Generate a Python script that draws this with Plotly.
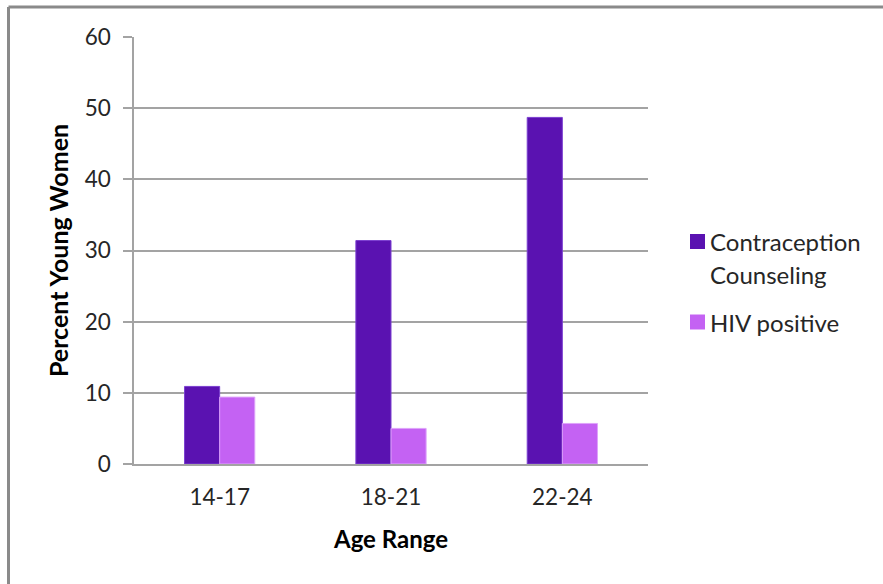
import plotly.graph_objects as go

# Age groups and the two measured series (percent of young women)
age_ranges = ["14-17", "18-21", "22-24"]
contraception_counseling = [10.9, 31.4, 48.7]
hiv_positive = [9.4, 5.0, 5.7]

series_names = ["Contraception Counseling", "HIV positive"]
legend_lines = [["Contraception", "Counseling"], ["HIV positive"]]
series_colors = ["#5A12B1", "#C462F3"]
edge_colors = ["#7B3FD0", "#DDA2FA"]

y_ticks = [0, 10, 20, 30, 40, 50, 60]

W, H = 883, 584
L, R, T, B = 134, 235, 37, 120
PW, PH = W - L - R, H - T - B

FONT = "Lato"
TEXT = "#262626"
GRID = "#A3A3A3"


def px_x(px):
    return (px - L) / PW


def px_y(py):
    return (H - B - py) / PH


fig = go.Figure()
for name, vals, col, edge in zip(series_names, [contraception_counseling, hiv_positive],
                                 series_colors, edge_colors):
    fig.add_trace(go.Bar(
        x=age_ranges, y=vals, name=name,
        marker=dict(color=col, line=dict(color=edge, width=1)),
        showlegend=False,
    ))

# Legend drawn as swatches plus text to the right of the plot area
shapes = []
annotations = []
legend_rows = [241.5, 322]
for lines, col, row in zip(legend_lines, series_colors, legend_rows):
    shapes.append(dict(type="rect", xref="paper", yref="paper",
                       x0=px_x(690), x1=px_x(705), y0=px_y(row + 7.5), y1=px_y(row - 7.5),
                       fillcolor=col, line=dict(width=0)))
    for i, line in enumerate(lines):
        annotations.append(dict(
            text=line, xref="paper", yref="paper",
            x=px_x(708), y=px_y(row + 33 * i), xanchor="left", yanchor="middle",
            showarrow=False, font=dict(family=FONT, size=24, color=TEXT),
        ))

# Outer chart frame (left and top edges)
frame = dict(color="#8A8A8A", width=3)
shapes.append(dict(type="line", xref="paper", yref="paper",
                   x0=px_x(8.5), x1=px_x(8.5), y0=px_y(7), y1=px_y(600), line=frame))
shapes.append(dict(type="line", xref="paper", yref="paper",
                   x0=px_x(8.5), x1=px_x(900), y0=px_y(7), y1=px_y(7), line=frame))

fig.update_layout(
    width=W, height=H,
    margin=dict(l=L, r=R, t=T, b=B),
    paper_bgcolor="white", plot_bgcolor="white",
    barmode="group", bargap=0.59, bargroupgap=0,
    font=dict(family=FONT, size=22, color=TEXT),
    shapes=shapes, annotations=annotations,
    xaxis=dict(
        showline=True, linecolor=GRID, linewidth=1.5,
        ticks="", ticklabelstandoff=12,
        tickfont=dict(family=FONT, size=22.5, color=TEXT),
        title=dict(text="<b>Age Range</b>", standoff=22,
                   font=dict(family=FONT, size=24, color="black")),
    ),
    yaxis=dict(
        range=[0, 60], tickvals=y_ticks,
        showgrid=True, gridcolor=GRID, gridwidth=1.5,
        showline=True, linecolor=GRID, linewidth=1.5,
        ticks="outside", ticklen=9, tickcolor=GRID, tickwidth=1.5,
        ticklabelstandoff=8,
        zeroline=False,
        tickfont=dict(family=FONT, size=22.5, color=TEXT),
        title=dict(text="<b>Percent Young Women</b>", standoff=9,
                   font=dict(family=FONT, size=25, color="black")),
    ),
)

fig.write_html("out.html")
